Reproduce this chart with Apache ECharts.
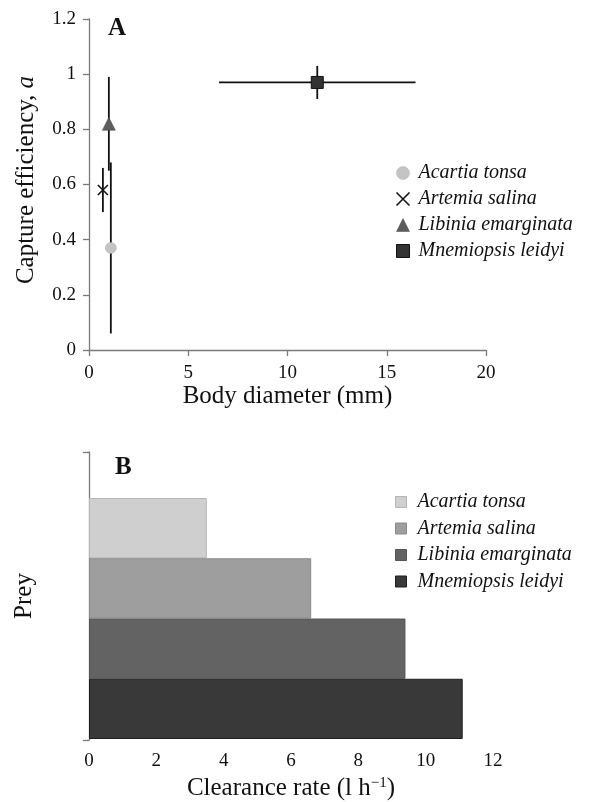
<!doctype html>
<html>
<head>
    <meta charset="utf-8">
    <title>Capture efficiency and clearance rate</title>
    <script src="https://cdn.jsdelivr.net/npm/echarts@6/dist/echarts.min.js"></script>
    <style>
        html, body { margin: 0; padding: 0; background: #fff; }
    </style>
</head>
<body>
    <div id="main" style="width: 595px;height:802px;"></div>
</body>
<script type="text/javascript">
    // prey species, same order in both panels
    var species = ['Acartia tonsa', 'Artemia salina', 'Libinia emarginata', 'Mnemiopsis leidyi'];
    // panel A: body diameter (mm) and capture efficiency a, with error bars
    var bodyDiam = [1.1, 0.7, 1.0, 11.5];
    var bodyDiamErr = [0, 0, 0, 4.95];
    var captureEff = [0.37, 0.58, 0.82, 0.97];
    var captureErr = [0.31, 0.08, 0.17, 0.06];
    // panel B: clearance rate (l h-1)
    var clearance = [3.5, 6.6, 9.4, 11.1];

    var serif = 'Liberation Serif';
    var axisGrey = '#7a7a7a';
    var crossPath = 'path://M0,0L10,10M10,0L0,10';

    var markerStyle = [
        { symbol: 'circle', size: 11, color: '#c4c4c4', border: '#b0b0b0', bw: 0.5 },
        { symbol: crossPath, size: 10, color: 'none', border: '#151515', bw: 1.6 },
        { symbol: 'triangle', size: 13, color: '#5c5c5c', border: '#4a4a4a', bw: 0.5 },
        { symbol: 'rect', size: 12, color: '#333', border: '#111', bw: 1 }
    ];
    var barColors = ['#cfcfcf', '#9e9e9e', '#636363', '#393939'];
    var barBorders = ['#b5b5b5', '#8a8a8a', '#555', '#1e1e1e'];

    var myChart = echarts.init(document.getElementById('main'));

    var errRows = species.map(function (s, i) {
        return [bodyDiam[i], captureEff[i], bodyDiamErr[i], captureErr[i]];
    });

    var series = [];
    // error bars for panel A
    series.push({
        type: 'custom',
        xAxisIndex: 0,
        yAxisIndex: 0,
        silent: true,
        z: 1,
        data: errRows,
        renderItem: function (params, api) {
            var x = api.value(0), y = api.value(1), ex = api.value(2), ey = api.value(3);
            var kids = [];
            var a = api.coord([x, y - ey]), b = api.coord([x, y + ey]);
            kids.push({ type: 'line', shape: { x1: a[0], y1: a[1], x2: b[0], y2: b[1] },
                style: { stroke: '#111', lineWidth: 1.8 } });
            if (ex > 0) {
                var c = api.coord([x - ex, y]), d = api.coord([x + ex, y]);
                kids.push({ type: 'line', shape: { x1: c[0], y1: c[1], x2: d[0], y2: d[1] },
                    style: { stroke: '#111', lineWidth: 1.8 } });
            }
            return { type: 'group', children: kids };
        }
    });
    species.forEach(function (s, i) {
        var m = markerStyle[i];
        series.push({
            name: s,
            type: 'scatter',
            xAxisIndex: 0,
            yAxisIndex: 0,
            z: 3,
            symbol: m.symbol,
            symbolSize: m.size,
            itemStyle: { color: m.color, borderColor: m.border, borderWidth: m.bw, opacity: 1 },
            data: [[bodyDiam[i], captureEff[i]]]
        });
    });
    species.forEach(function (s, i) {
        series.push({
            name: s,
            type: 'bar',
            xAxisIndex: 1,
            yAxisIndex: 1,
            stack: 'prey',
            barWidth: '100%',
            itemStyle: { color: barColors[i], borderColor: barBorders[i], borderWidth: 1 },
            data: species.map(function (t, j) { return j === i ? clearance[i] : '-'; })
        });
    });

    var tickLabel = { fontFamily: serif, fontSize: 19, color: '#111' };
    var nameStyle = { fontFamily: serif, fontSize: 25, color: '#111' };
    var lineStyle = { color: axisGrey, width: 1.3 };
    var legendText = { fontFamily: serif, fontStyle: 'italic', fontSize: 20, color: '#111', lineHeight: 20 };

    var option = {
        backgroundColor: '#fff',
        animation: false,
        title: [
            { text: 'A', left: 108, top: 16, padding: 0, textStyle: { fontFamily: serif, fontSize: 25, fontWeight: 'bold', color: '#111' } },
            { text: 'B', left: 115, top: 455, padding: 0, textStyle: { fontFamily: serif, fontSize: 25, fontWeight: 'bold', color: '#111' } }
        ],
        legend: [
            {
                orient: 'vertical',
                left: 394,
                top: 163,
                padding: 0,
                itemWidth: 13,
                itemHeight: 13,
                itemGap: 6,
                textStyle: Object.assign({ padding: [0, 0, 0, 4] }, legendText),
                data: species.map(function (s, i) {
                    var m = markerStyle[i];
                    return { name: s, icon: m.symbol,
                        itemStyle: { color: m.color, borderColor: m.border, borderWidth: m.bw } };
                })
            },
            {
                orient: 'vertical',
                left: 395,
                top: 492,
                padding: 0,
                itemWidth: 11,
                itemHeight: 11,
                itemGap: 6.5,
                textStyle: Object.assign({ padding: [0, 0, 0, 6] }, legendText),
                data: species.map(function (s, i) {
                    return { name: s, icon: 'rect',
                        itemStyle: { color: barColors[i], borderColor: barBorders[i], borderWidth: 1 } };
                })
            }
        ],
        grid: [
            { left: 89, right: 109, top: 19, bottom: 452 },
            { left: 89, right: 102, top: 498, bottom: 62 },
            { left: 89, right: 102, top: 452, bottom: 62 }
        ],
        xAxis: [
            {
                gridIndex: 0, type: 'value', min: 0, max: 20, interval: 5,
                name: 'Body diameter (mm)', nameLocation: 'middle', nameGap: 33, nameTextStyle: nameStyle,
                axisLine: { lineStyle: lineStyle },
                axisTick: { length: 6, lineStyle: lineStyle },
                axisLabel: Object.assign({ margin: 14 }, tickLabel),
                splitLine: { show: false }
            },
            {
                gridIndex: 1, type: 'value', min: 0, max: 12, interval: 2,
                name: 'Clearance rate (l h{sup|\u22121})', nameLocation: 'middle', nameGap: 37,
                nameTextStyle: Object.assign({
                    rich: { sup: { fontFamily: serif, fontSize: 15, color: '#111', verticalAlign: 'top', lineHeight: 24 } }
                }, nameStyle),
                axisLine: { lineStyle: lineStyle },
                axisTick: { length: 6, lineStyle: lineStyle },
                axisLabel: Object.assign({ margin: 13 }, tickLabel),
                splitLine: { show: false }
            },
            { gridIndex: 2, type: 'value', min: 0, max: 12, show: false }
        ],
        yAxis: [
            {
                gridIndex: 0, type: 'value', min: 0, max: 1.2, interval: 0.2,
                name: 'Capture efficiency, {i|a}', nameLocation: 'middle', nameGap: 50,
                nameTextStyle: Object.assign({
                    padding: [0, 0, 0, 9],
                    rich: { i: { fontFamily: serif, fontSize: 25, fontStyle: 'italic', color: '#111' } }
                }, nameStyle),
                axisLine: { lineStyle: lineStyle },
                axisTick: { length: 6, lineStyle: lineStyle },
                axisLabel: Object.assign({ margin: 13 }, tickLabel),
                splitLine: { show: false }
            },
            {
                gridIndex: 1, type: 'category', inverse: true, data: species,
                axisLine: { show: false }, axisTick: { show: false }, axisLabel: { show: false }
            },
            {
                gridIndex: 2, type: 'value', min: 0, max: 1, interval: 1,
                name: 'Prey', nameLocation: 'middle', nameGap: 52,
                nameTextStyle: nameStyle,
                axisLine: { lineStyle: lineStyle },
                axisTick: { length: 6, lineStyle: lineStyle },
                axisLabel: { show: false },
                splitLine: { show: false }
            }
        ],
        series: series
    };

    myChart.setOption(option);
</script>
</html>
